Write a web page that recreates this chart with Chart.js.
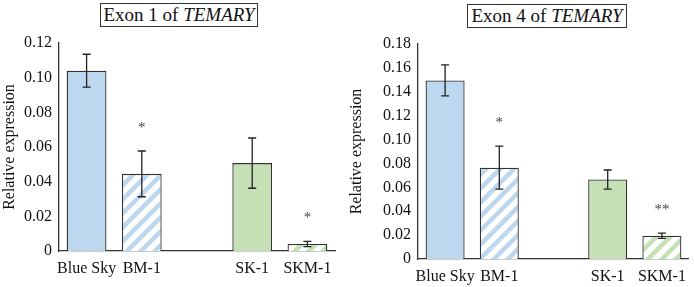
<!DOCTYPE html>
<html lang="en">
<head>
  <meta charset="UTF-8" />
  <title>TEMARY expression</title>
  <script src="https://cdn.jsdelivr.net/npm/chart.js"></script>
  <style>
    * { box-sizing: border-box; margin: 0; padding: 0; }
    body { background: white; width: 694px; height: 287px; position: relative; overflow: hidden;
           font-family: 'Liberation Serif', 'DejaVu Serif', serif; }
    .panel { position: absolute; top: 0; width: 347px; height: 287px; }
    #p1 { left: 0; }
    #p2 { left: 347px; }
    .title-box { position: absolute; border: 1px solid #333; font-size: 19px; color: #111;
                 text-align: center; line-height: 22px; background: white; }
    canvas { position: absolute; left: 0; top: 0; }
  </style>
</head>
<body>
  <div class="panel" id="p1">
    <div class="title-box" style="left:100px; top:3px; width:158px; height:24px;">Exon 1 of <i>TEMARY</i></div>
    <canvas id="chart1" width="347" height="287"></canvas>
  </div>
  <div class="panel" id="p2">
    <div class="title-box" style="left:120px; top:4px; width:160px; height:24px;">Exon 4 of <i>TEMARY</i></div>
    <canvas id="chart2" width="347" height="287"></canvas>
  </div>

<script>
  // categories (the empty one is the gap between the two groups)
  const categories = ['Blue Sky', 'BM-1', '', 'SK-1', 'SKM-1'];

  // Exon 1
  const exon1Values = [0.104, 0.0445, null, 0.0507, 0.0040];
  const exon1Errors = [0.0095, 0.0132, null, 0.0145, 0.0015];
  const exon1Stars  = ['', '*', '', '', '*'];
  const exon1Ticks  = [0, 0.02, 0.04, 0.06, 0.08, 0.1, 0.12];

  // Exon 4
  const exon4Values = [0.1495, 0.0765, null, 0.0665, 0.0195];
  const exon4Errors = [0.0130, 0.0180, null, 0.0080, 0.0022];
  const exon4Stars  = ['', '*', '', '', '**'];
  const exon4Ticks  = [0, 0.02, 0.04, 0.06, 0.08, 0.1, 0.12, 0.14, 0.16, 0.18];

  const blue = '#bdd7ee';
  const green = '#c5e0b4';
  const serif = "'Liberation Serif', 'DejaVu Serif', serif";

  function stripes(color) {
    const c = document.createElement('canvas');
    c.width = 14; c.height = 14;
    const g = c.getContext('2d');
    g.fillStyle = 'white';
    g.fillRect(0, 0, 14, 14);
    g.strokeStyle = color;
    g.lineWidth = 4.5;
    g.beginPath();
    g.moveTo(-7, 21); g.lineTo(21, -7);
    g.moveTo(-7, 7); g.lineTo(7, -7);
    g.moveTo(7, 21); g.lineTo(21, 7);
    g.stroke();
    return g.createPattern(c, 'repeat');
  }

  const fills = [blue, stripes(blue), 'white', green, stripes(green)];

  const errorBars = {
    id: 'errorBars',
    afterDatasetsDraw(chart, args, opts) {
      const ctx = chart.ctx;
      const y = chart.scales.y;
      const meta = chart.getDatasetMeta(0);
      const vals = chart.data.datasets[0].data;
      ctx.save();
      ctx.strokeStyle = '#222';
      ctx.lineWidth = 1.3;
      meta.data.forEach((bar, i) => {
        if (vals[i] == null) return;
        const e = opts.errors[i];
        const yt = y.getPixelForValue(vals[i] + e);
        const yb = y.getPixelForValue(vals[i] - e);
        ctx.beginPath();
        ctx.moveTo(bar.x, yt); ctx.lineTo(bar.x, yb);
        ctx.moveTo(bar.x - 4, yt); ctx.lineTo(bar.x + 4, yt);
        ctx.moveTo(bar.x - 4, yb); ctx.lineTo(bar.x + 4, yb);
        ctx.stroke();
        if (opts.stars[i]) {
          ctx.fillStyle = '#444';
          ctx.font = '15px ' + serif;
          ctx.textAlign = 'center';
          ctx.textBaseline = 'middle';
          ctx.fillText(opts.stars[i], bar.x, yt - 23);
        }
      });
      ctx.restore();
    }
  };

  function makeChart(id, values, errors, stars, ticks, pad, yWidth, xHeight) {
    const font = { family: serif, size: 16 };
    new Chart(document.getElementById(id), {
      type: 'bar',
      data: {
        labels: categories,
        datasets: [{
          data: values,
          backgroundColor: fills,
          borderColor: '#333',
          borderWidth: { top: 1.3, left: 1.3, right: 1.3, bottom: 0 },
          borderSkipped: false,
          barPercentage: 0.72,
          categoryPercentage: 1
        }]
      },
      options: {
        responsive: false,
        animation: false,
        layout: { padding: pad },
        plugins: {
          legend: { display: false },
          tooltip: { enabled: false },
          errorBars: { errors: errors, stars: stars }
        },
        scales: {
          x: {
            grid: { display: false, drawTicks: false },
            border: { color: '#333', width: 1.3 },
            ticks: { color: '#111', font: font, padding: 8, maxRotation: 0, autoSkip: false },
            afterFit: s => { s.height = xHeight; }
          },
          y: {
            min: 0,
            max: ticks[ticks.length - 1],
            afterBuildTicks: s => { s.ticks = ticks.map(v => ({ value: v })); },
            grid: { display: false, drawTicks: false },
            border: { color: '#333', width: 1.3 },
            ticks: { color: '#111', font: font, padding: 7 },
            title: { display: true, text: 'Relative expression', color: '#111', font: font, padding: 0 },
            afterFit: s => { s.width = yWidth; }
          }
        }
      },
      plugins: [errorBars]
    });
  }

  makeChart('chart1', exon1Values, exon1Errors, exon1Stars, exon1Ticks,
            { top: 43, right: 12, left: 0, bottom: 0 }, 59, 36);
  makeChart('chart2', exon4Values, exon4Errors, exon4Stars, exon4Ticks,
            { top: 44, right: 1, left: 0, bottom: 0 }, 71, 28);
</script>
</body>
</html>
